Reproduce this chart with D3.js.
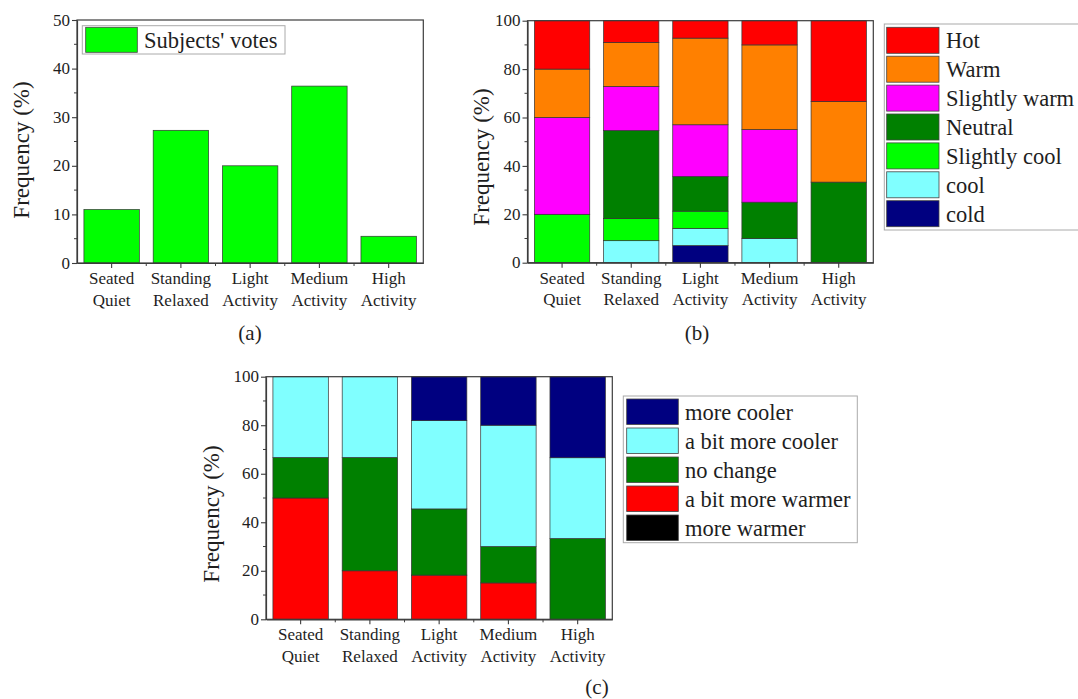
<!DOCTYPE html>
<html><head><meta charset="utf-8">
<script src="https://cdn.jsdelivr.net/npm/d3@7"></script>
<style>
html,body{margin:0;padding:0;background:#fff;}
svg{display:block;}
</style>
</head><body>
<svg id="chart" width="1078" height="699"></svg>
<script>
// ---------- data ----------
const categories = ["Seated Quiet","Standing Relaxed","Light Activity","Medium Activity","High Activity"];

// (a) distribution of subjects' votes
const votes = [11, 27.3, 20, 36.4, 5.5];
const yTicksA = [0,10,20,30,40,50];

// (b) thermal sensation votes (bottom -> top)
const sensationKeys = ["cold","cool","Slightly cool","Neutral","Slightly warm","Warm","Hot"];
const cold         = [0, 0, 7.1, 0, 0];
const cool         = [0, 9.1, 7.1, 10, 0];
const slightlyCool = [20, 9.1, 7.1, 0, 0];
const neutral      = [0, 36.4, 14.3, 15, 33.3];
const slightlyWarm = [40, 18.2, 21.4, 30, 0];
const warm         = [20, 18.2, 35.8, 35, 33.3];
const hot          = [20, 9.1, 7.2, 10, 33.4];
const sensationColors = ["#000080","#80FFFF","#00FF00","#008000","#FF00FF","#FF8000","#FF0000"];

// (c) thermal preference votes (bottom -> top)
const prefKeys = ["more warmer","a bit more warmer","no change","a bit more cooler","more cooler"];
const moreWarmer    = [0, 0, 0, 0, 0];
const bitMoreWarmer = [50, 20, 18.2, 15, 0];
const noChange      = [16.7, 46.7, 27.3, 15, 33.3];
const bitMoreCooler = [33.3, 33.3, 36.4, 50, 33.3];
const moreCooler    = [0, 0, 18.1, 20, 33.4];
const prefColors = ["#000000","#FF0000","#008000","#80FFFF","#000080"];

const yTicksBC = [0,20,40,60,80,100];

// ---------- drawing ----------
const FONT = '"Liberation Serif"';
const svg = d3.select("#chart");
svg.append("rect").attr("width",1078).attr("height",699).attr("fill","#fff");
const axisColor = "#3c3c3c";
const textColor = "#1e1e1e";

function styleText(sel, size){
  return sel.attr("font-size",size).style("font-family",FONT).attr("fill",textColor);
}

function buildRows(seriesArrays, keys){
  return categories.map((c,i)=>{
    const r = {cat:c};
    keys.forEach((k,j)=>{ r[k] = seriesArrays[j][i]; });
    return r;
  });
}

function panel(o){
  const g = svg.append("g");
  const x = d3.scaleBand().domain(categories).range([o.x0,o.x1]).paddingInner(0.2).paddingOuter(0.1);
  const y = d3.scaleLinear().domain([0,o.max]).range([o.yBot,o.yTop]);

  if (o.stackKeys){
    const rows = buildRows(o.series, o.stackKeys);
    const stacked = d3.stack().keys(o.stackKeys)(rows);
    g.selectAll("g.layer").data(stacked).join("g")
      .attr("fill",(d,i)=>o.colors[i])
      .selectAll("rect").data(d=>d.filter(p=>p[1]-p[0]>0)).join("rect")
      .attr("x",d=>x(d.data.cat)).attr("width",x.bandwidth())
      .attr("y",d=>y(d[1])).attr("height",d=>y(d[0])-y(d[1]))
      .attr("stroke","#333").attr("stroke-width",0.7);
  } else {
    g.selectAll("rect.bar").data(o.values).join("rect")
      .attr("x",(d,i)=>x(categories[i])).attr("width",x.bandwidth())
      .attr("y",d=>y(d)).attr("height",d=>y(0)-y(d))
      .attr("fill",o.color).attr("stroke","#333").attr("stroke-width",0.7);
  }

  g.append("rect").attr("x",o.x0).attr("y",o.yTop)
    .attr("width",o.x1-o.x0).attr("height",o.yBot-o.yTop)
    .attr("fill","none").attr("stroke",axisColor).attr("stroke-width",1.2);

  // y axis (lines from d3 axis, labels as separate texts)
  const ya = g.append("g").attr("transform",`translate(${o.x0},0)`)
    .call(d3.axisLeft(y).tickValues(o.ticks).tickSize(5).tickSizeOuter(0).tickFormat(""));
  ya.select(".domain").attr("stroke",axisColor).attr("stroke-width",1.2);
  ya.selectAll(".tick line").attr("stroke",axisColor).attr("stroke-width",1.1);
  styleText(g.selectAll("text.yl").data(o.ticks).join("text"),17)
    .attr("x",o.x0-7).attr("y",d=>y(d)).attr("dy","0.33em").attr("text-anchor","end").text(d=>d);
  const minors = o.ticks.slice(1).map((t,i)=>(t+o.ticks[i])/2);
  g.selectAll("line.minor").data(minors).join("line")
    .attr("x1",o.x0-3).attr("x2",o.x0).attr("y1",d=>y(d)).attr("y2",d=>y(d))
    .attr("stroke",axisColor).attr("stroke-width",1);

  // x axis
  const xa = g.append("g").attr("transform",`translate(0,${o.yBot})`)
    .call(d3.axisBottom(x).tickSize(5).tickSizeOuter(0).tickFormat(""));
  xa.select(".domain").attr("stroke",axisColor).attr("stroke-width",1.2);
  xa.selectAll(".tick line").attr("stroke",axisColor).attr("stroke-width",1.1);
  const step = x.step();
  const bounds = d3.range(1,categories.length).map(i=>o.x0+i*step);
  g.selectAll("line.xminor").data(bounds).join("line")
    .attr("x1",d=>d).attr("x2",d=>d).attr("y1",o.yBot).attr("y2",o.yBot+3)
    .attr("stroke",axisColor).attr("stroke-width",1);
  [0,1].forEach(line=>{
    styleText(g.selectAll("text.xl"+line).data(categories).join("text"),17)
      .attr("text-anchor","middle")
      .attr("x",d=>x(d)+x.bandwidth()/2).attr("y",o.yBot+21+line*21.5)
      .text(d=>d.split(" ")[line]);
  });

  styleText(g.append("text"),23).attr("transform",`translate(${o.titleX},${o.titleY}) rotate(-90)`)
    .attr("text-anchor","middle").text("Frequency (%)");

  styleText(g.append("text"),21).attr("x",o.labelX).attr("y",o.labelY).attr("text-anchor","middle")
    .text(o.label);
}

function legend(items, colors, o){
  const g = svg.append("g");
  g.append("rect").attr("x",o.bx).attr("y",o.by).attr("width",o.bw).attr("height",o.bh)
    .attr("fill","#fff").attr("stroke","#aaa").attr("stroke-width",1);
  g.selectAll("rect.sw").data(items).join("rect")
    .attr("x",o.sx).attr("y",(d,i)=>o.sy+i*o.step).attr("width",o.sw).attr("height",o.sh)
    .attr("fill",(d,i)=>colors[i]).attr("stroke","#444").attr("stroke-width",0.8);
  styleText(g.selectAll("text.lt").data(items).join("text"),22.5)
    .attr("x",o.tx).attr("y",(d,i)=>o.sy+i*o.step+o.base).text(d=>d);
}

panel({x0:77,x1:423.3,yTop:20,yBot:263,max:50,ticks:yTicksA,values:votes,color:"#00FF00",
  titleX:29,titleY:150,label:"(a)",labelX:250,labelY:340});
legend(["Subjects' votes"],["#00FF00"],{bx:82.3,by:25.7,bw:202.7,bh:28.3,sx:85.7,sy:27.3,sw:51.6,sh:25,step:0,tx:144,base:20.7});

panel({x0:527.5,x1:873.3,yTop:20.7,yBot:262.7,max:100,ticks:yTicksBC,
  stackKeys:sensationKeys,series:[cold,cool,slightlyCool,neutral,slightlyWarm,warm,hot],colors:sensationColors,
  titleX:489,titleY:157,label:"(b)",labelX:697,labelY:340});
legend(sensationKeys.slice().reverse(),sensationColors.slice().reverse(),
  {bx:884.3,by:24,bw:196,bh:206,sx:886.7,sy:27.3,sw:52.3,sh:26,step:28.9,tx:946,base:21});

panel({x0:266,x1:612.3,yTop:376.7,yBot:619.3,max:100,ticks:yTicksBC,
  stackKeys:prefKeys,series:[moreWarmer,bitMoreWarmer,noChange,bitMoreCooler,moreCooler],colors:prefColors,
  titleX:219,titleY:514,label:"(c)",labelX:597,labelY:694});
legend(prefKeys.slice().reverse(),prefColors.slice().reverse(),
  {bx:623.3,by:396,bw:234,bh:146.7,sx:626.7,sy:399,sw:51.6,sh:25.5,step:29,tx:685,base:20.5});

// force text layout so the chosen font is resolved before the picture is taken
svg.selectAll("text").each(function(){ this.getComputedTextLength(); });
</script>
</body></html>
